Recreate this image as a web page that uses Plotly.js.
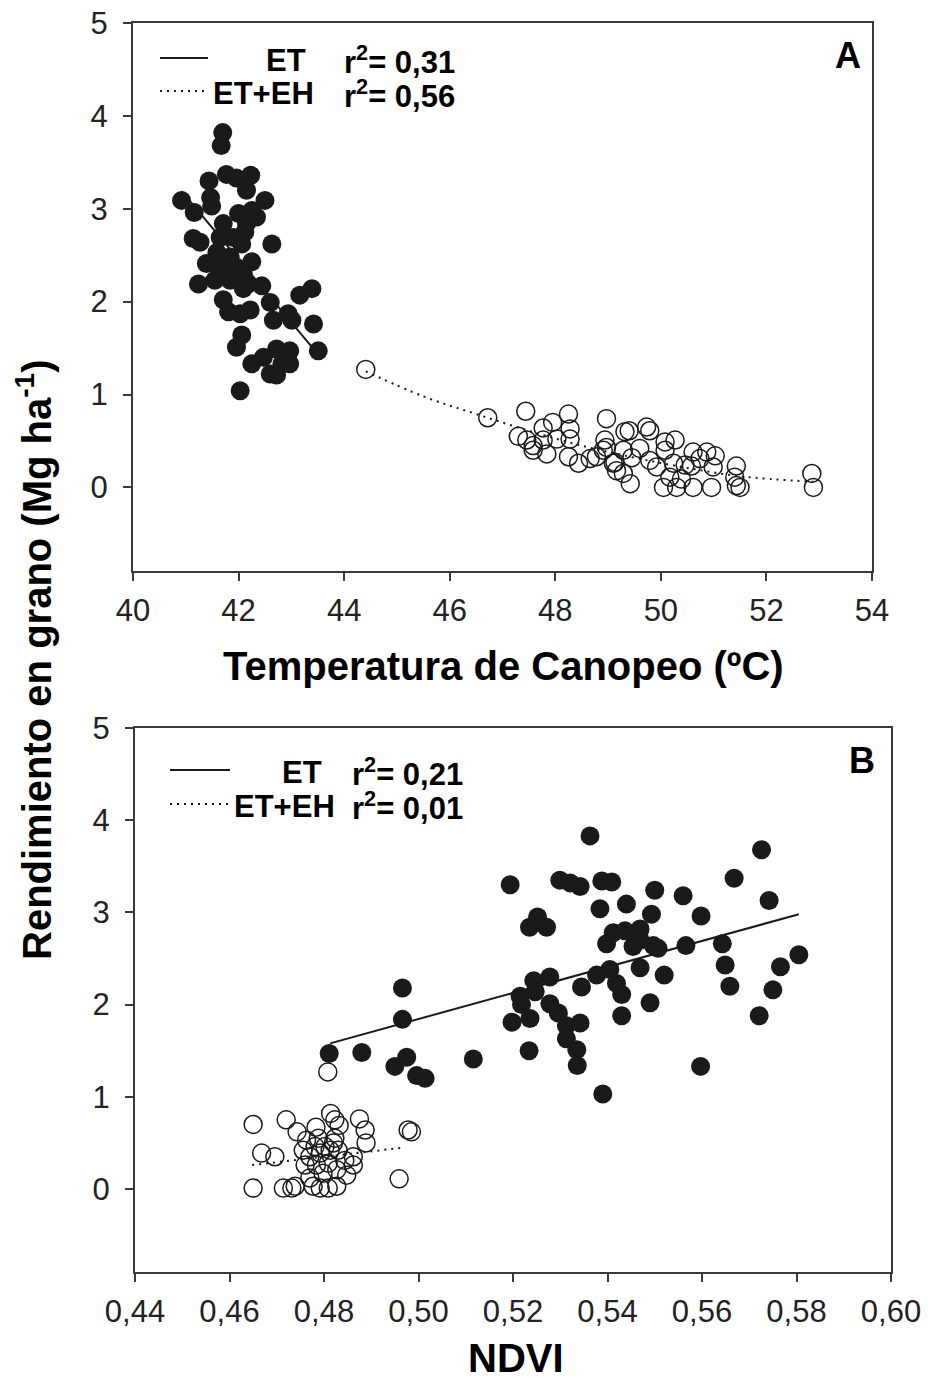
<!DOCTYPE html>
<html>
<head>
<meta charset="utf-8">
<script src="https://cdn.plot.ly/plotly-3.0.1.min.js"></script>
<style>html,body{margin:0;padding:0;background:#fff;}#chart{width:928px;height:1382px;}</style>
</head>
<body>
<div id="chart"></div>
<script>
// ---------- Panel A: canopy temperature (ºC) vs grain yield ----------
var tempET = [41.70,41.67,41.44,41.77,41.96,42.23,42.15,40.92,41.47,41.49,42.50,41.16,42.00,42.25,41.71,42.15,41.14,41.27,41.65,42.06,42.63,41.59,41.55,41.84,42.25,41.84,42.09,41.24,41.55,41.84,42.18,42.44,41.71,42.09,42.60,43.16,43.39,41.81,42.03,42.22,42.66,42.94,43.01,43.42,42.06,41.96,43.51,42.25,42.47,42.72,42.97,42.97,42.60,42.72,42.82,42.03,41.90,41.68,41.96,41.39,42.34,42.12];
var yieldA_ET = [3.82,3.68,3.30,3.37,3.33,3.36,3.20,3.09,3.12,3.03,3.09,2.96,2.95,2.98,2.84,2.84,2.68,2.64,2.69,2.62,2.62,2.53,2.41,2.48,2.43,2.37,2.30,2.19,2.23,2.23,2.19,2.17,2.02,2.14,1.99,2.07,2.14,1.89,1.87,1.91,1.80,1.87,1.80,1.76,1.64,1.51,1.47,1.33,1.40,1.49,1.47,1.33,1.22,1.21,1.33,1.04,2.69,2.30,2.37,2.41,2.91,2.75];
var tempEH = [44.41,46.72,47.44,48.25,47.77,47.95,48.28,48.97,47.30,47.46,47.58,47.77,47.58,47.84,48.03,48.28,48.25,48.44,48.66,48.78,48.97,48.94,49.13,49.16,49.32,49.29,49.42,49.40,49.73,49.79,48.91,49.10,49.45,49.29,49.60,49.79,49.92,50.08,50.27,50.08,50.24,50.05,50.30,50.17,50.61,50.74,50.87,51.03,50.58,50.99,50.61,50.96,51.43,51.40,51.43,51.50,52.86,52.89,50.46,50.39];
var yieldA_EH = [1.27,0.75,0.82,0.79,0.64,0.70,0.63,0.74,0.55,0.51,0.45,0.51,0.40,0.36,0.52,0.52,0.33,0.26,0.31,0.33,0.43,0.51,0.27,0.18,0.60,0.40,0.04,0.61,0.65,0.61,0.40,0.26,0.32,0.15,0.42,0.29,0.22,0.49,0.51,0.40,0.26,0.00,0.00,0.11,0.38,0.31,0.38,0.34,0.23,0.22,0.00,0.00,0.23,0.11,0.02,0.00,0.15,0.00,0.24,0.09];
var fitA_ET_x = [40.92, 43.51];
var fitA_ET_y = [3.19, 1.43];
var fitA_EH_x = [44.41, 45.5, 46.5, 47.5, 48.5, 49.5, 50.5, 51.5, 52.89];
var fitA_EH_y = [1.25, 0.98, 0.79, 0.61, 0.45, 0.32, 0.21, 0.12, 0.06];

// ---------- Panel B: NDVI vs grain yield ----------
var ndviET = [0.5363,0.5726,0.5194,0.5299,0.5321,0.5342,0.5388,0.5409,0.5668,0.5500,0.5560,0.5742,0.5384,0.5440,0.5493,0.5598,0.5252,0.5235,0.5271,0.5412,0.5437,0.5469,0.5398,0.5454,0.5497,0.5507,0.5469,0.5566,0.5643,0.5649,0.5766,0.5805,0.5469,0.5520,0.5377,0.5405,0.5244,0.5278,0.5345,0.5419,0.5430,0.5215,0.5218,0.5247,0.5278,0.5296,0.5659,0.5750,0.5490,0.5198,0.5236,0.5313,0.5342,0.5430,0.5721,0.5313,0.5335,0.5116,0.5234,0.5336,0.5597,0.5390,0.4966,0.4811,0.4880,0.4950,0.4975,0.4996,0.5014,0.4966];
var yieldB_ET = [3.83,3.68,3.30,3.35,3.32,3.28,3.34,3.33,3.37,3.24,3.18,3.13,3.04,3.09,2.98,2.96,2.95,2.84,2.84,2.78,2.80,2.82,2.66,2.63,2.64,2.61,2.70,2.64,2.66,2.43,2.41,2.54,2.40,2.32,2.32,2.38,2.26,2.30,2.19,2.23,2.11,2.09,2.00,2.14,2.01,1.91,2.20,2.16,2.02,1.81,1.85,1.77,1.80,1.88,1.88,1.63,1.51,1.41,1.50,1.34,1.33,1.03,1.84,1.47,1.48,1.33,1.43,1.23,1.20,2.18];
var ndviEH = [0.4808,0.4650,0.4720,0.4743,0.4814,0.4823,0.4832,0.4875,0.4887,0.4889,0.4978,0.4985,0.4668,0.4696,0.4783,0.4763,0.4788,0.4823,0.4756,0.4770,0.4792,0.4813,0.4830,0.4844,0.4862,0.4760,0.4784,0.4809,0.4827,0.4798,0.4848,0.4770,0.4959,0.4650,0.4714,0.4739,0.4732,0.4777,0.4792,0.4809,0.4827,0.4802,0.4820,0.4781,0.4862];
var yieldB_EH = [1.27,0.70,0.75,0.62,0.82,0.75,0.69,0.76,0.64,0.50,0.64,0.62,0.39,0.35,0.67,0.53,0.55,0.55,0.42,0.35,0.39,0.42,0.42,0.31,0.26,0.26,0.26,0.28,0.21,0.17,0.15,0.12,0.11,0.01,0.01,0.03,0.01,0.03,0.01,0.01,0.03,0.46,0.50,0.46,0.35];
var fitB_ET_x = [0.4813, 0.5805];
var fitB_ET_y = [1.58, 2.98];
var fitB_EH_x = [0.4648, 0.4970];
var fitB_EH_y = [0.26, 0.45];

// ---------- Texts ----------
var xTitleA = 'Temperatura de Canopeo (ºC)';
var xTitleB = 'NDVI';
var yTitle = 'Rendimiento en grano (Mg ha<sup>-1</sup>)';
var legendNames = ['ET', 'ET+EH'];
var r2A = ['0,31', '0,56'];
var r2B = ['0,21', '0,01'];
var panelLetters = ['A', 'B'];

// ---------- Styling / layout ----------
var W = 928, H = 1382;
function fx(p){ return p / W; }
function fy(p){ return 1 - p / H; }
var FONT = 'Liberation Sans, Arial, Helvetica, sans-serif';
var INK = '#1a1a1a';
var AX = '#3a3a3a';
var SIZE = 19;
var DOTS = '2px,5px';

var traces = [
  {x: tempET, y: yieldA_ET, xaxis:'x', yaxis:'y', mode:'markers', type:'scatter',
   marker:{symbol:'circle', size:SIZE, color:INK, line:{width:0}}, showlegend:false},
  {x: tempEH, y: yieldA_EH, xaxis:'x', yaxis:'y', mode:'markers', type:'scatter',
   marker:{symbol:'circle-open', size:SIZE-1, color:INK, line:{width:1.5, color:INK}}, showlegend:false},
  {x: fitA_ET_x, y: fitA_ET_y, xaxis:'x', yaxis:'y', mode:'lines', type:'scatter',
   line:{color:INK, width:2}, showlegend:false},
  {x: fitA_EH_x, y: fitA_EH_y, xaxis:'x', yaxis:'y', mode:'lines', type:'scatter',
   line:{color:INK, width:2, dash:DOTS, shape:'spline'}, showlegend:false},
  {x: ndviET, y: yieldB_ET, xaxis:'x2', yaxis:'y2', mode:'markers', type:'scatter',
   marker:{symbol:'circle', size:SIZE, color:INK, line:{width:0}}, showlegend:false},
  {x: ndviEH, y: yieldB_EH, xaxis:'x2', yaxis:'y2', mode:'markers', type:'scatter',
   marker:{symbol:'circle-open', size:SIZE-1, color:INK, line:{width:1.5, color:INK}}, showlegend:false},
  {x: fitB_ET_x, y: fitB_ET_y, xaxis:'x2', yaxis:'y2', mode:'lines', type:'scatter',
   line:{color:INK, width:2}, showlegend:false},
  {x: fitB_EH_x, y: fitB_EH_y, xaxis:'x2', yaxis:'y2', mode:'lines', type:'scatter',
   line:{color:INK, width:2, dash:DOTS}, showlegend:false}
];

function axisCommon(){
  return {
    showgrid:false, zeroline:false, showline:true, linecolor:AX, linewidth:2,
    mirror:true, ticks:'outside', ticklen:8, tickwidth:2, tickcolor:AX,
    tickfont:{family:FONT, size:31, color:'#222'}, automargin:false, fixedrange:true
  };
}
var xa = Object.assign(axisCommon(), {domain:[fx(133), fx(872)], range:[40,54], tickvals:[40,42,44,46,48,50,52,54], anchor:'y', ticklabelstandoff:3});
var ya = Object.assign(axisCommon(), {domain:[fy(571), fy(23)], range:[-0.9,5], tickvals:[0,1,2,3,4,5], anchor:'x', ticklabelstandoff:9});
var xb = Object.assign(axisCommon(), {domain:[fx(135), fx(891)], range:[0.44,0.60], tickvals:[0.44,0.46,0.48,0.50,0.52,0.54,0.56,0.58,0.60], tickformat:'.2f', anchor:'y2', ticklabelstandoff:3});
var yb = Object.assign(axisCommon(), {domain:[fy(1272), fy(728)], range:[-0.9,5], tickvals:[0,1,2,3,4,5], anchor:'x2', ticklabelstandoff:9});

function ann(text, x, y, size, xanchor, extra){
  return Object.assign({text:text, xref:'paper', yref:'paper', x:fx(x), y:fy(y), showarrow:false,
    xanchor:xanchor||'center', yanchor:'middle', font:{family:FONT, size:size, color:'#000', weight:'bold'}}, extra||{});
}
var LEG = 31;
var annotations = [
  ann(xTitleA, 503, 666, 40, 'center'),
  ann(xTitleB, 516, 1358, 40, 'center'),
  ann(yTitle, 34, 660, 40, 'center', {textangle:-90}),
  ann(panelLetters[0], 848, 55, 36, 'center'),
  ann(panelLetters[1], 862, 760, 36, 'center'),
  // legend panel A
  ann(legendNames[0], 264, 60, LEG, 'left'),
  ann('r<sup>2</sup>= ' + r2A[0], 342, 60, LEG, 'left'),
  ann(legendNames[1], 211, 94, LEG, 'left'),
  ann('r<sup>2</sup>= ' + r2A[1], 342, 94, LEG, 'left'),
  // legend panel B
  ann(legendNames[0], 280, 772, LEG, 'left'),
  ann('r<sup>2</sup>= ' + r2B[0], 350, 772, LEG, 'left'),
  ann(legendNames[1], 232, 806, LEG, 'left'),
  ann('r<sup>2</sup>= ' + r2B[1], 350, 806, LEG, 'left')
];
function seg(x0, x1, y, dash){
  return {type:'line', xref:'paper', yref:'paper', x0:fx(x0), x1:fx(x1), y0:fy(y), y1:fy(y),
    line:{color:INK, width:2, dash:dash}};
}
var shapes = [
  seg(160, 208, 58, 'solid'),
  seg(160, 208, 91, DOTS),
  seg(170, 230, 770, 'solid'),
  seg(170, 230, 804, DOTS)
];

var layout = {
  width:W, height:H, margin:{l:0, r:0, t:0, b:0},
  paper_bgcolor:'#fff', plot_bgcolor:'#fff',
  separators:', ', showlegend:false,
  font:{family:FONT, color:'#000'},
  xaxis:xa, yaxis:ya, xaxis2:xb, yaxis2:yb,
  annotations:annotations, shapes:shapes
};
Plotly.newPlot('chart', traces, layout, {displayModeBar:false, staticPlot:true});
</script>
</body>
</html>
